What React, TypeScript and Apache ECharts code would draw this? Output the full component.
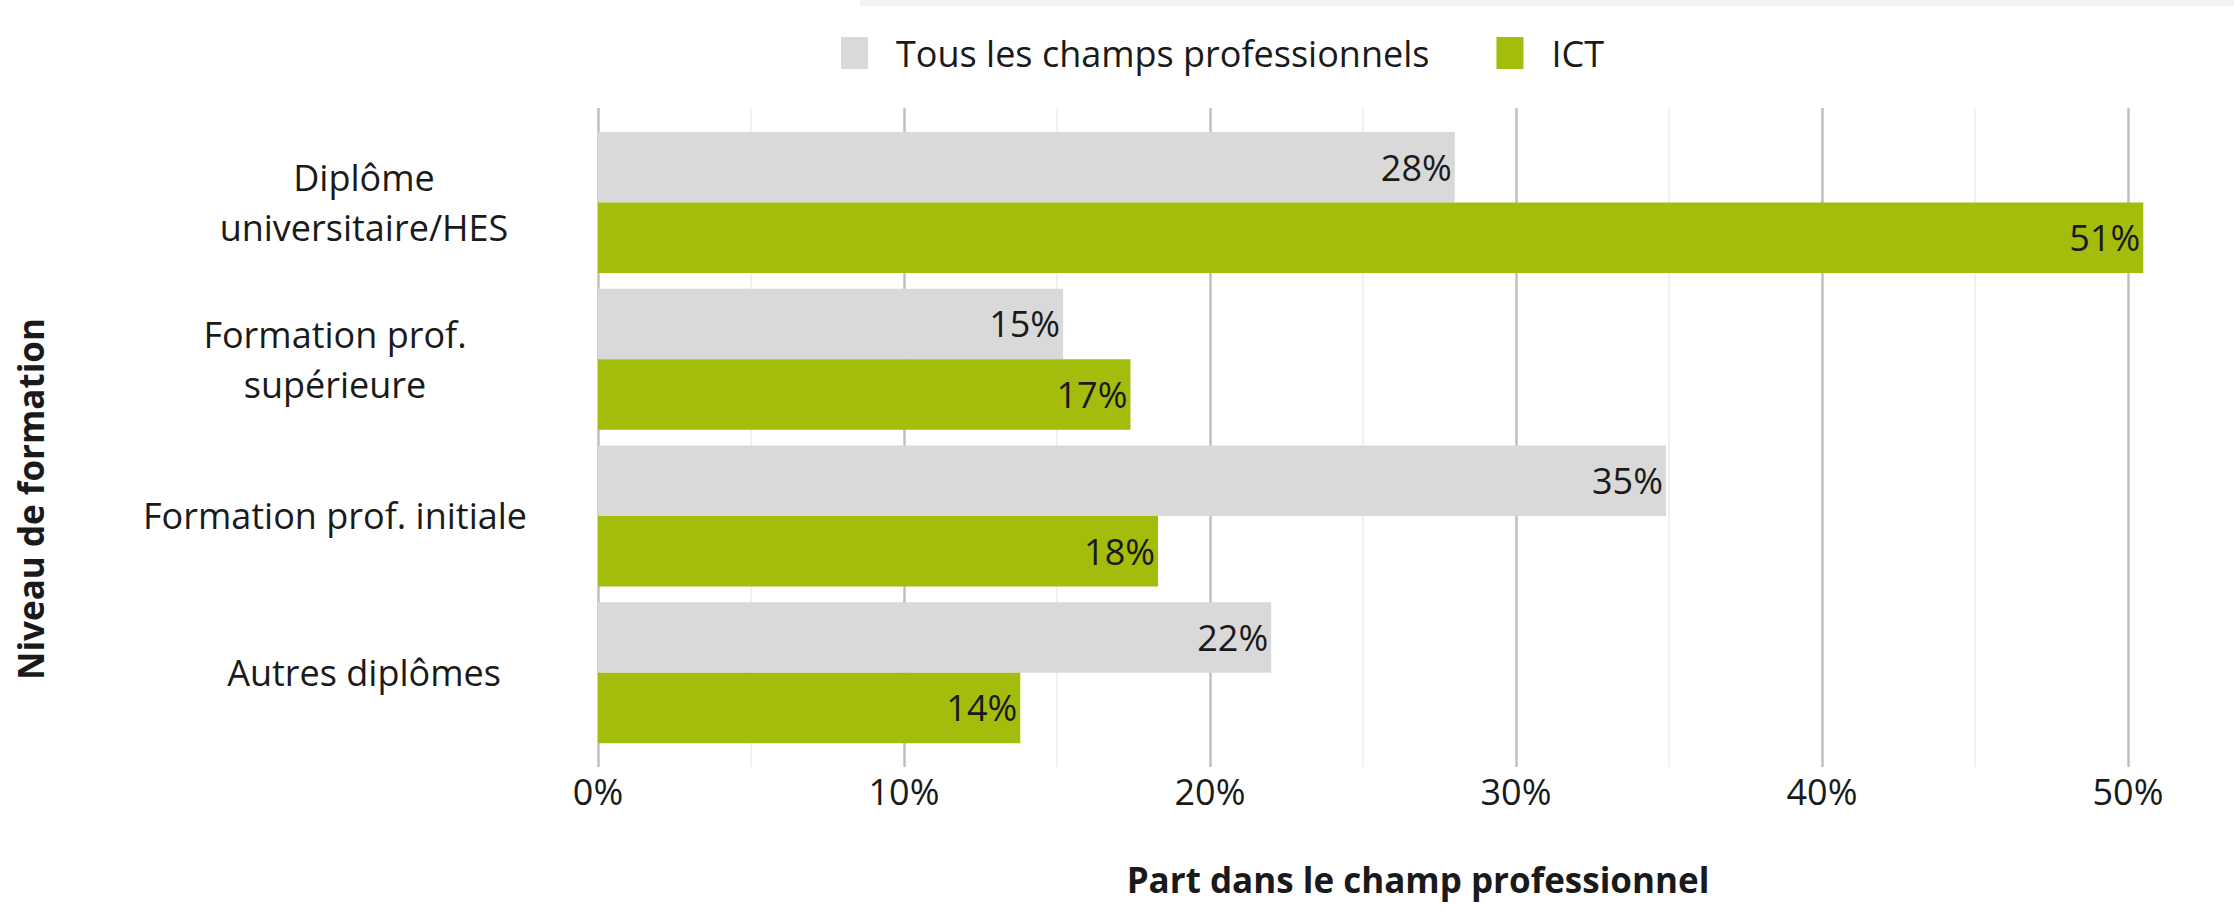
import React, { useEffect, useRef } from "react";
import * as echarts from "echarts";

const categories = [
  "Diplôme\nuniversitaire/HES",
  "Formation prof.\nsupérieure",
  "Formation prof. initiale",
  "Autres diplômes",
];
const seriesNames = ["Tous les champs professionnels", "ICT"];
const allFields = [28.0, 15.2, 34.9, 22.0];
const ictValues = [50.5, 17.4, 18.3, 13.8];
const xTicks = { min: 0, max: 50, interval: 10 };
const xTitle = "Part dans le champ professionnel";
const yTitle = "Niveau de formation";

const FONT = "'Open Sans', 'Noto Sans', sans-serif";
const TEXT = "#1a1a1a";
const GREY = "#d9d9d9";
const GREEN = "#a4bc0b";
const FS = 36;

export default function App() {
  const ref = useRef<HTMLDivElement>(null);
  useEffect(() => {
    document.body.style.margin = "0";
    if (!ref.current) return;
    const chart = echarts.init(ref.current, undefined, { renderer: "svg" });
    const shifted = new Set([1, 2]);
    const label = {
      show: true,
      position: "insideRight",
      distance: 3,
      fontSize: FS,
      fontFamily: FONT,
      color: TEXT,
      formatter: (p: any) => Math.round(p.value) + "%",
    };
    chart.setOption({
      animation: false,
      backgroundColor: "#ffffff",
      textStyle: { fontFamily: FONT },
      legend: {
        left: 836,
        top: 30,
        itemWidth: 27,
        itemHeight: 32,
        itemGap: 67,
        icon: "rect",
        data: seriesNames,
        textStyle: {
          fontSize: FS,
          fontFamily: FONT,
          color: TEXT,
          padding: [0, 0, 0, 23],
        },
      },
      grid: [
        { left: 598, width: 1530, top: 108, height: 659 },
        { left: 598, width: 1530, top: 124, height: 627 },
      ],
      xAxis: [
        {
          gridIndex: 0,
          type: "value",
          min: xTicks.min,
          max: xTicks.max,
          interval: xTicks.interval,
          axisLine: { show: false },
          axisTick: { show: false },
          axisLabel: {
            formatter: "{value}%",
            fontSize: FS,
            fontFamily: FONT,
            color: TEXT,
            margin: 6,
          },
          splitLine: { show: true, lineStyle: { color: "#bfbfbf", width: 2.5 } },
          minorTick: { show: false, splitNumber: 2 },
          minorSplitLine: { show: true, lineStyle: { color: "#ececec", width: 1.5 } },
        },
        {
          gridIndex: 1,
          type: "value",
          min: xTicks.min,
          max: xTicks.max,
          interval: xTicks.interval,
          show: false,
        },
      ],
      yAxis: [
        {
          gridIndex: 0,
          type: "category",
          data: categories,
          show: false,
        },
        {
          gridIndex: 1,
          type: "category",
          data: categories,
          inverse: true,
          axisLine: { show: false },
          axisTick: { show: false },
          axisLabel: {
            margin: 234,
            align: "center",
            formatter: (v: string, i: number) =>
              v
                .split("\n")
                .map((line) => (shifted.has(i) ? `{s|${line}}` : `{n|${line}}`))
                .join("\n"),
            rich: {
              n: { fontSize: FS, fontFamily: FONT, color: TEXT, lineHeight: 50 },
              s: {
                fontSize: FS,
                fontFamily: FONT,
                color: TEXT,
                lineHeight: 50,
                padding: [0, 58, 0, 0],
              },
            },
          },
        },
      ],
      series: [
        {
          name: seriesNames[0],
          type: "bar",
          xAxisIndex: 1,
          yAxisIndex: 1,
          data: allFields,
          barWidth: 70.5,
          barGap: "0%",
          clip: false,
          itemStyle: { color: GREY },
          label,
        },
        {
          name: seriesNames[1],
          type: "bar",
          xAxisIndex: 1,
          yAxisIndex: 1,
          data: ictValues,
          barWidth: 70.5,
          barGap: "0%",
          clip: false,
          itemStyle: { color: GREEN },
          label,
        },
      ],
      graphic: [
        {
          type: "rect",
          shape: { x: 860, y: 0, width: 1374, height: 6 },
          style: { fill: "#f2f2f2" },
          silent: true,
        },
        {
          type: "text",
          x: 1418,
          y: 879,
          style: {
            text: xTitle,
            fontSize: 35,
            fontWeight: "bold",
            fontFamily: FONT,
            fill: TEXT,
            align: "center",
            verticalAlign: "middle",
          },
        },
        {
          type: "text",
          x: 30,
          y: 499,
          rotation: Math.PI / 2,
          style: {
            text: yTitle,
            fontSize: 35,
            fontWeight: "bold",
            fontFamily: FONT,
            fill: TEXT,
            align: "center",
            verticalAlign: "middle",
          },
        },
      ],
    });
    return () => chart.dispose();
  }, []);
  return <div ref={ref} style={{ width: 2234, height: 923 }} />;
}
